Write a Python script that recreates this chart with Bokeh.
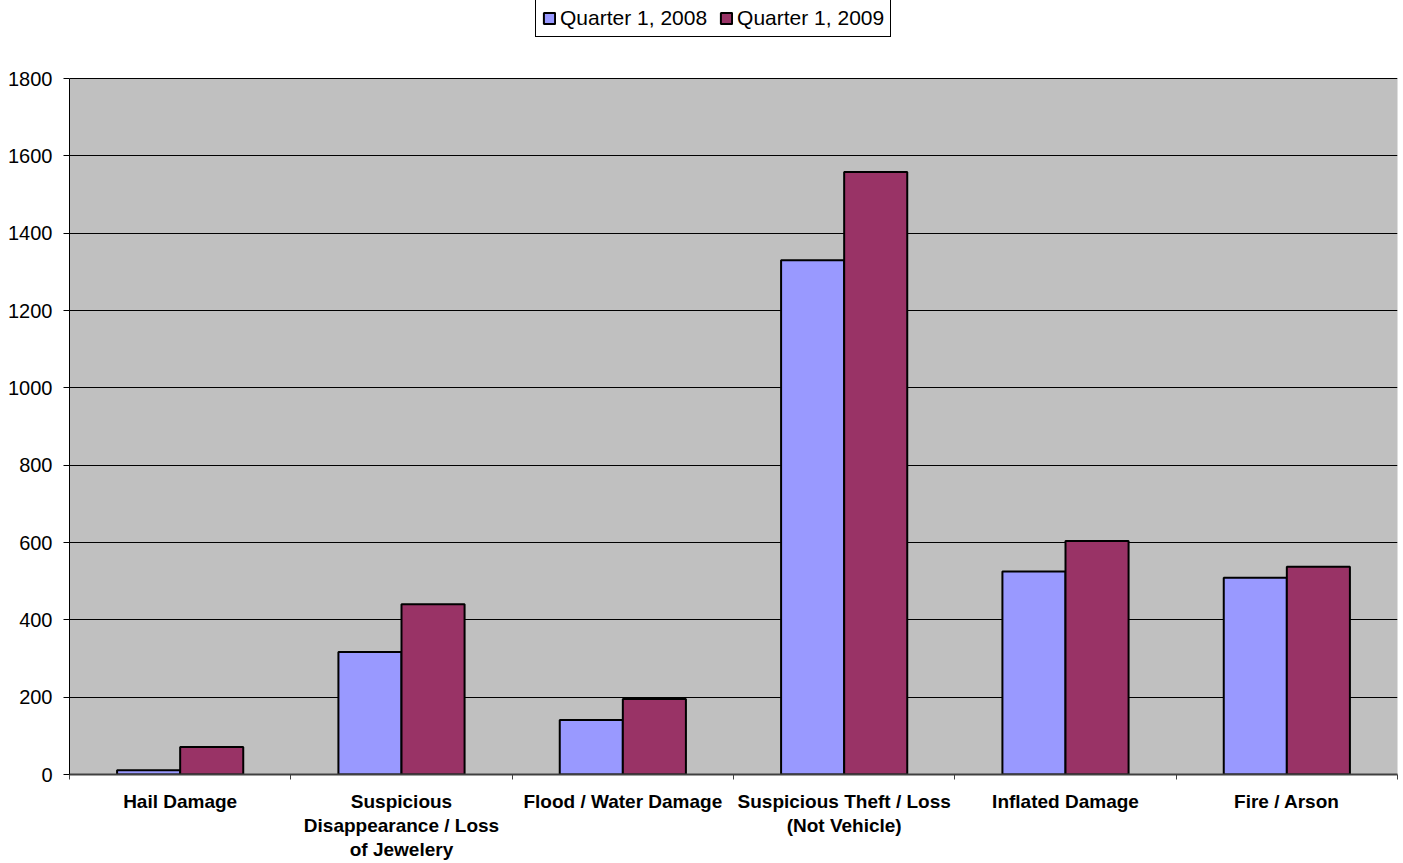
from bokeh.plotting import figure
from bokeh.models import (ColumnDataSource, FixedTicker, Range1d, Legend,
                          LegendItem, BoxAnnotation)
from bokeh.transform import dodge
from bokeh.embed import file_html
from bokeh.resources import INLINE

# Claim counts by category
categories = [
    "Hail Damage",
    "Suspicious\nDisappearance / Loss\nof Jewelery",
    "Flood / Water Damage",
    "Suspicious Theft / Loss\n(Not Vehicle)",
    "Inflated Damage",
    "Fire / Arson",
]
q1_2008 = [11, 317, 141, 1330, 525, 509]
q1_2009 = [71, 440, 195, 1558, 604, 537]
series_names = ["Quarter 1, 2008", "Quarter 1, 2009"]
y_ticks = [0, 200, 400, 600, 800, 1000, 1200, 1400, 1600, 1800]
y_max = 1800

FONT = "Liberation Sans"
COL_2008 = "#9999FF"
COL_2009 = "#993366"

# frame spans the full height so the legend can sit above the grey area
FRAME_H = 774
AREA_H = 696
centers = [i + 0.5 for i in range(len(categories))]
source = ColumnDataSource(data=dict(x=centers, a=q1_2008, b=q1_2009))

p = figure(
    width=1403, height=863,
    x_range=Range1d(0, len(categories)),
    y_range=Range1d(0, y_max * FRAME_H / AREA_H),
    output_backend="svg", toolbar_location=None,
    min_border_left=69, min_border_right=6,
    min_border_top=0, min_border_bottom=89,
)
p.border_fill_color = "white"
p.background_fill_color = "white"
p.outline_line_color = None

# grey plotting area
p.add_layout(BoxAnnotation(bottom=0, top=y_max, fill_color="#C0C0C0",
                           fill_alpha=1.0, line_color="#808080",
                           line_width=1, level="image"))

bw = 0.285
r1 = p.vbar(x=dodge("x", -bw / 2), top="a", width=bw, source=source,
            fill_color=COL_2008, line_color="black", line_width=2)
r2 = p.vbar(x=dodge("x", bw / 2), top="b", width=bw, source=source,
            fill_color=COL_2009, line_color="black", line_width=2)

# y axis
p.yaxis.ticker = FixedTicker(ticks=y_ticks, minor_ticks=[])
p.yaxis.bounds = (0, y_max)
p.yaxis.major_label_text_font = FONT
p.yaxis.major_label_text_font_size = "20px"
p.yaxis.major_label_text_color = "black"
p.yaxis.major_tick_in = 0
p.yaxis.major_tick_out = 6
p.yaxis.major_tick_line_color = "black"
p.yaxis.axis_line_color = "black"
p.yaxis.major_label_standoff = 11

# x axis: labels at category centres, ticks at category boundaries
p.xaxis.ticker = FixedTicker(ticks=centers,
                             minor_ticks=list(range(len(categories) + 1)))
p.xaxis.major_label_overrides = {c: lab for c, lab in zip(centers, categories)}
p.xaxis.major_label_text_font = FONT
p.xaxis.major_label_text_font_style = "bold"
p.xaxis.major_label_text_font_size = "19px"
p.xaxis.major_label_text_line_height = 1.16
p.xaxis.major_label_text_color = "black"
p.xaxis.major_tick_in = 0
p.xaxis.major_tick_out = 0
p.xaxis.minor_tick_in = 0
p.xaxis.minor_tick_out = 5
p.xaxis.minor_tick_line_color = "#404040"
p.xaxis.axis_line_color = "#404040"
p.xaxis.axis_line_width = 2
p.xaxis.major_label_standoff = 11

p.xgrid.grid_line_color = None
p.ygrid.ticker = FixedTicker(ticks=y_ticks)
p.ygrid.grid_line_color = "black"
p.ygrid.grid_line_width = 1

legend = Legend(
    items=[LegendItem(label=series_names[0], renderers=[r1]),
           LegendItem(label=series_names[1], renderers=[r2])],
    orientation="horizontal",
    location=(466, 737),
    label_text_font=FONT, label_text_font_size="21px",
    label_text_color="black",
    glyph_width=14, glyph_height=14, label_standoff=4, spacing=12,
    padding=6, margin=0,
    border_line_color="black", border_line_width=1, border_line_alpha=1.0,
    background_fill_color="white", background_fill_alpha=1.0,
)
p.add_layout(legend, "center")

open("out.html", "w").write(file_html(p, INLINE))
